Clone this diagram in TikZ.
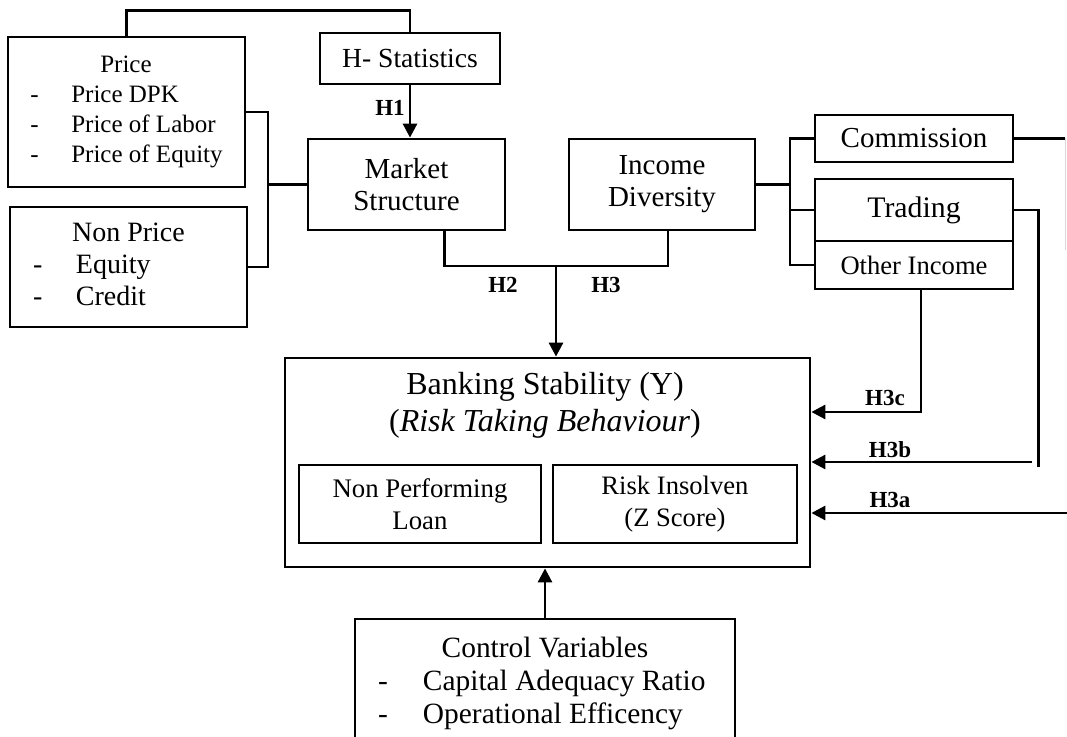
\documentclass[tikz,border=0pt]{standalone}
\usepackage{fontspec}
\setmainfont{Liberation Serif}
\usetikzlibrary{arrows.meta}
\tikzset{
    var-box/.style = {draw, line width=1.4pt, inner sep=0pt, align=center, font=\fontsize{14.5}{16}\selectfont},
    link/.style = {line width=1.4pt},
    link-arrow/.style = {line width=1.4pt, -{Triangle[length=7pt,width=7pt]}},
    hyp/.style = {font=\bfseries\fontsize{11.5}{13}\selectfont, inner sep=0pt},
}

\begin{document}
\begin{tikzpicture}[x=0.5pt,y=-0.5pt]
\useasboundingbox (0,0) rectangle (1067,737);

% market structure side
\node[var-box, minimum width=118.5pt, minimum height=75pt, font=\fontsize{12.5}{15}\selectfont] (price) at (126.5,112) {\begin{tabular}{@{}p{20.5pt}@{}l@{}}\multicolumn{2}{@{}l@{}}{\hspace{35pt}Price}\\ - & Price DPK\\ - & Price of Labor\\ - & Price of Equity\end{tabular}};
\node[var-box, minimum width=118.5pt, minimum height=60pt, font=\fontsize{14}{16}\selectfont] (nonprice) at (128.5,267) {\begin{tabular}{@{}p{21.5pt}@{}p{74pt}@{}}\multicolumn{2}{@{}c@{}}{Non Price}\\ - & Equity\\ - & Credit\end{tabular}};
\node[var-box, minimum width=90pt, minimum height=25.5pt, font=\fontsize{13.8}{16}\selectfont] (hstat) at (410,58.5) {H- Statistics};
\node[var-box, minimum width=98.5pt, minimum height=45.5pt] (market) at (406.5,184.5) {Market\\Structure};

% income diversity side
\node[var-box, minimum width=93pt, minimum height=45.5pt] (income) at (662,184.5) {Income\\Diversity};
\node[var-box, minimum width=99pt, minimum height=23.5pt] (commission) at (914,138.5) {Commission};
\node[var-box, minimum width=99pt, minimum height=31pt, font=\fontsize{14.9}{16}\selectfont] (trading) at (914,210) {Trading};
\node[var-box, minimum width=99pt, minimum height=24pt, font=\fontsize{13.3}{15}\selectfont] (other) at (914,265) {Other Income};

% dependent variable
\node[var-box, minimum width=262.5pt, minimum height=104.5pt] (bank) at (547.5,462.5) {};
\node[font=\fontsize{16}{18.5}\selectfont, align=center] (banktitle) at (545,405) {Banking Stability (Y)\\(\textit{Risk Taking Behaviour})};
\node[var-box, minimum width=121pt, minimum height=39pt, font=\fontsize{13.4}{16}\selectfont] (npl) at (420,504) {Non Performing\\Loan};
\node[var-box, minimum width=122pt, minimum height=39pt, font=\fontsize{13.3}{16}\selectfont] (zscore) at (675,504) {Risk Insolven\\(Z Score)};

% controls
\node[var-box, minimum width=190pt, minimum height=63pt, font=\fontsize{14.7}{16.5}\selectfont] (control) at (545,682) {\begin{tabular}{@{}p{22.5pt}@{}p{144.5pt}@{}}\multicolumn{2}{@{}c@{}}{Control Variables}\\ - & Capital Adequacy Ratio\\ - & Operational Efficency\end{tabular}\\[-3pt]};

% connectors
\coordinate (lbr) at (268,184.5);
\coordinate (rbr) at (790,184.5);
\coordinate (jn) at (556,266);
\coordinate (cedge) at (1065,138.5);
\coordinate (h3c) at (0,412);
\coordinate (h3b) at (1032,462);
\coordinate (h3a) at (1067,513);

\draw[link] (price.north) -- ++(0,-25) -| (hstat.north);
\draw[link-arrow] (hstat.south) -- (hstat.south |- market.north);
\draw[link] (price.east) -| (lbr) |- (nonprice.east);
\draw[link] (lbr) -- (market.west);
\draw[link] (income.east) -- (rbr);
\draw[link] (commission.west) -| (rbr) |- (other.west);
\draw[link] (trading.west) -- (trading.west -| rbr);
\draw[link] (commission.east) -- (cedge);
\draw[gray!30, thin] (cedge) -- ++(0,112);
\draw[link] ([xshift=19pt]market.south) |- (jn) -| ([xshift=3pt]income.south);
\draw[link-arrow] (jn) -- (jn |- bank.north);
\draw[link-arrow] ([xshift=3.5pt]other.south) |- (bank.east |- h3c);
\draw[link] (trading.east) -| ++(24,257);
\draw[link-arrow] (h3b) -- (h3b -| bank.east);
\draw[link-arrow] (h3a) -- (h3a -| bank.east);
\draw[link-arrow] (control.north) -- (control.north |- bank.south);

% hypotheses
\node[hyp] (lh1) at (390,108) {H1};
\node[hyp] (lh2) at (503,285) {H2};
\node[hyp] (lh3) at (606,285) {H3};
\node[hyp] (lh3c) at (885,398) {H3c};
\node[hyp] (lh3b) at (890,450) {H3b};
\node[hyp] (lh3a) at (890,500) {H3a};
\end{tikzpicture}
\end{document}
